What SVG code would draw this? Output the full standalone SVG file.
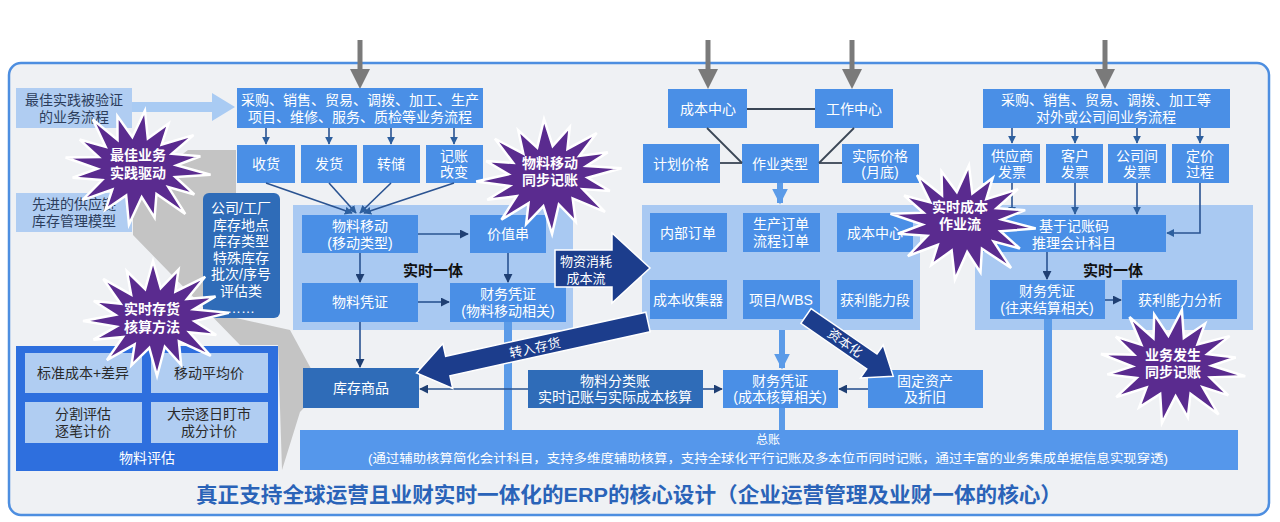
<svg xmlns="http://www.w3.org/2000/svg" width="1280" height="522" viewBox="0 0 1280 522">
<defs>
<style>
.t{font-family:"Liberation Sans","Noto Sans CJK SC",sans-serif;font-size:14px;fill:#fff;text-anchor:middle;dominant-baseline:central}
.td{fill:#2c3d5c}
.tk{fill:#2a2a2a}
.b{font-weight:700}
.box{fill:#4a8fe6}
.dark{fill:#2f6cb8}
.panel{fill:#a9c9f2}
.lite{fill:#b0cdf2}
.star{fill:#5a2b8f;stroke:#fff;stroke-width:2.5;stroke-linejoin:miter}
.navy{fill:#1c3d8c;stroke:#fff;stroke-width:1.5}
.ln{stroke:#2a5391;stroke-width:1.6;fill:none}
.gl{stroke:#3a4655;stroke-width:1.8;fill:none}
.fat{stroke:#5b9be8;stroke-width:6;fill:none}
.bar{fill:#5b9be8}
.garr{stroke:#7a7a7a;stroke-width:5}
</style>
<marker id="ah" viewBox="0 0 10 10" refX="9" refY="5" markerWidth="9" markerHeight="9" markerUnits="userSpaceOnUse" orient="auto">
<path d="M0,0 L10,5 L0,10 z" fill="#1f3f73"/>
</marker>
<marker id="ahs" viewBox="0 0 10 10" refX="9" refY="5" markerWidth="8" markerHeight="8" markerUnits="userSpaceOnUse" orient="auto">
<path d="M0,0 L10,5 L0,10 z" fill="#2d5f9e"/>
</marker>
<marker id="ahl" viewBox="0 0 10 10" refX="9" refY="5" markerWidth="16" markerHeight="16" markerUnits="userSpaceOnUse" orient="auto">
<path d="M0,0 L10,5 L0,10 z" fill="#5b9be8"/>
</marker>
<polygon id="star" points="74,0 39.2,5.9 59.9,21.3 33.3,16.7 52.9,41.6 22.2,24.9 22.8,48.6 7.8,29.4 -2,58 -7.8,29.4 -26.8,45.6 -22.2,24.9 -50.9,38.6 -33.3,16.7 -62.9,17.3 -39.2,5.9 -72,-2 -39.2,-5.9 -59.9,-21.3 -33.3,-16.7 -48.9,-42.6 -22.2,-24.9 -24.8,-48.6 -7.8,-29.4 2,-57 7.8,-29.4 26.8,-46.6 22.2,-24.9 52.9,-37.6 33.3,-16.7 61.9,-17.3 39.2,-5.9"/>
<polygon id="gtri" points="-10,0 10,0 0,20"/>
</defs>

<rect width="1280" height="522" fill="#ffffff"/>
<rect x="9" y="63" width="1260" height="452" rx="12" fill="#eff1f4" stroke="#4d8ee0" stroke-width="2.5"/>

<!-- gray beam -->
<polygon points="188,150 236,150 236,318 290,330 322,389 300,412 282,470 278,345 240,345 133,235 133,192" fill="#c4c4c4"/>

<!-- top gray input arrows -->
<g id="inputs">
<line class="garr" x1="360" y1="40" x2="360" y2="72"/><use href="#gtri" x="360" y="69" fill="#7a7a7a"/>
<line class="garr" x1="708" y1="40" x2="708" y2="72"/><use href="#gtri" x="708" y="69" fill="#7a7a7a"/>
<line class="garr" x1="852" y1="40" x2="852" y2="72"/><use href="#gtri" x="852" y="69" fill="#7a7a7a"/>
<line class="garr" x1="1105" y1="40" x2="1105" y2="72"/><use href="#gtri" x="1105" y="69" fill="#7a7a7a"/>
</g>

<!-- panels -->
<rect id="panel-left" class="panel" x="293" y="205" width="280" height="125"/>
<rect id="panel-mid" class="panel" x="642" y="205" width="278" height="125"/>
<rect id="panel-right" class="panel" x="975" y="205" width="278" height="125"/>

<!-- bars to general ledger -->
<rect class="bar" x="504" y="322" width="8" height="110"/>
<rect class="bar" x="779" y="408" width="6" height="24"/>
<rect class="bar" x="1044" y="318" width="8" height="114"/>

<!-- left nodes -->
<g id="best-practice">
<rect class="lite" x="16" y="88" width="116" height="40"/>
<text class="t td" x="74" y="100">最佳实践被验证<tspan x="74" dy="17">的业务流程</tspan></text>
<polygon points="132,102 212,102 212,93 235,107 212,121 212,112 132,112" fill="#a9cbf3"/>
</g>
<g id="supply-chain">
<rect class="lite" x="16" y="193" width="116" height="39"/>
<text class="t td" x="74" y="204">先进的供应链<tspan x="74" dy="17">库存管理模型</tspan></text>
</g>
<g id="org-units">
<rect class="dark" x="203" y="193" width="77" height="125" rx="6"/>
<text class="t" x="241" y="208">公司/工厂<tspan x="241" dy="16.6">库存地点</tspan><tspan x="241" dy="16.6">库存类型</tspan><tspan x="241" dy="16.6">特殊库存</tspan><tspan x="241" dy="16.6">批次/序号</tspan><tspan x="241" dy="16.6">评估类</tspan><tspan x="241" dy="16.6">……</tspan></text>
</g>
<g id="valuation">
<rect x="16" y="346" width="262" height="125" fill="#2e6fde"/>
<rect class="lite" x="25" y="353" width="117" height="40"/>
<rect class="lite" x="151" y="353" width="117" height="40"/>
<rect class="lite" x="25" y="402" width="117" height="41"/>
<rect class="lite" x="151" y="402" width="117" height="41"/>
<text class="t tk" x="83" y="373">标准成本+差异</text>
<text class="t tk" x="209" y="373">移动平均价</text>
<text class="t tk" x="83" y="414">分割评估<tspan x="83" dy="17">逐笔计价</tspan></text>
<text class="t tk" x="209" y="414">大宗逐日盯市<tspan x="209" dy="17">成分计价</tspan></text>
<text class="t" x="147" y="458">物料评估</text>
</g>

<!-- logistics flow -->
<g id="logistics">
<rect class="box" x="237" y="88" width="246" height="40"/>
<text class="t" x="360" y="100">采购、销售、贸易、调拨、加工、生产<tspan x="360" dy="17">项目、维修、服务、质检等业务流程</tspan></text>
</g>
<g id="goods-receipt"><rect class="box" x="237" y="145" width="58" height="38"/><text class="t" x="266" y="164">收货</text></g>
<g id="goods-issue"><rect class="box" x="301" y="145" width="56" height="38"/><text class="t" x="329" y="164">发货</text></g>
<g id="transfer"><rect class="box" x="363" y="145" width="57" height="38"/><text class="t" x="391" y="164">转储</text></g>
<g id="posting-change"><rect class="box" x="426" y="145" width="57" height="38"/><text class="t" x="454" y="156">记账<tspan x="454" dy="16">改变</tspan></text></g>

<g id="material-movement"><rect class="box" x="302" y="215" width="116" height="38"/><text class="t" x="360" y="226">物料移动<tspan x="360" dy="17">(移动类型)</tspan></text></g>
<g id="value-string"><rect class="box" x="470" y="215" width="76" height="38"/><text class="t" x="508" y="234">价值串</text></g>
<text class="t b" x="433" y="270" style="font-size:15px;fill:#111">实时一体</text>
<g id="material-doc"><rect class="box" x="302" y="283" width="116" height="39"/><text class="t" x="360" y="302">物料凭证</text></g>
<g id="fi-doc-mm"><rect class="box" x="450" y="283" width="116" height="39"/><text class="t" x="508" y="294">财务凭证<tspan x="508" dy="17">(物料移动相关)</tspan></text></g>
<g id="inventory"><rect class="dark" x="303" y="368" width="116" height="40"/><text class="t" x="361" y="388">库存商品</text></g>
<g id="material-ledger"><rect class="dark" x="528" y="370" width="175" height="38"/><text class="t" x="615" y="381">物料分类账<tspan x="615" dy="16">实时记账与实际成本核算</tspan></text></g>

<!-- controlling -->
<g id="cost-center"><rect class="box" x="668" y="89" width="79" height="39"/><text class="t" x="708" y="109">成本中心</text></g>
<g id="work-center"><rect class="box" x="815" y="89" width="78" height="39"/><text class="t" x="854" y="109">工作中心</text></g>
<g id="plan-price"><rect class="box" x="643" y="144" width="77" height="39"/><text class="t" x="681" y="164">计划价格</text></g>
<g id="activity-type"><rect class="box" x="742" y="144" width="77" height="39"/><text class="t" x="780" y="164">作业类型</text></g>
<g id="actual-price"><rect class="box" x="842" y="144" width="77" height="39"/><text class="t" x="880" y="156">实际价格<tspan x="880" dy="16">(月底)</tspan></text></g>
<g id="internal-order"><rect class="box" x="650" y="213" width="77" height="39"/><text class="t" x="688" y="233">内部订单</text></g>
<g id="production-order"><rect class="box" x="743" y="213" width="77" height="39"/><text class="t" x="781" y="224">生产订单<tspan x="781" dy="17">流程订单</tspan></text></g>
<g id="cost-center-2"><rect class="box" x="837" y="213" width="76" height="39"/><text class="t" x="875" y="233">成本中心</text></g>
<g id="cost-collector"><rect class="box" x="650" y="280" width="77" height="39"/><text class="t" x="688" y="300">成本收集器</text></g>
<g id="wbs"><rect class="box" x="743" y="280" width="77" height="39"/><text class="t" x="781" y="300">项目/WBS</text></g>
<g id="pa-segment"><rect class="box" x="837" y="280" width="76" height="39"/><text class="t" x="875" y="300">获利能力段</text></g>
<g id="fi-doc-co"><rect class="box" x="723" y="370" width="115" height="38"/><text class="t" x="780" y="381">财务凭证<tspan x="780" dy="16">(成本核算相关)</tspan></text></g>
<g id="fixed-asset"><rect class="box" x="868" y="370" width="115" height="38"/><text class="t" x="925" y="381">固定资产<tspan x="925" dy="16">及折旧</tspan></text></g>

<!-- right -->
<g id="external-process"><rect class="box" x="983" y="89" width="247" height="39"/><text class="t" x="1106" y="100">采购、销售、贸易、调拨、加工等<tspan x="1106" dy="17">对外或公司间业务流程</tspan></text></g>
<g id="vendor-invoice"><rect class="box" x="983" y="144" width="57" height="39"/><text class="t" x="1012" y="156">供应商<tspan x="1012" dy="16">发票</tspan></text></g>
<g id="customer-invoice"><rect class="box" x="1046" y="144" width="57" height="39"/><text class="t" x="1075" y="156">客户<tspan x="1075" dy="16">发票</tspan></text></g>
<g id="ic-invoice"><rect class="box" x="1108" y="144" width="58" height="39"/><text class="t" x="1137" y="156">公司间<tspan x="1137" dy="16">发票</tspan></text></g>
<g id="pricing"><rect class="box" x="1172" y="144" width="57" height="39"/><text class="t" x="1200" y="156">定价<tspan x="1200" dy="16">过程</tspan></text></g>
<g id="posting-key"><rect class="box" x="983" y="215" width="183" height="37"/><text class="t" x="1074" y="226">基于记账码<tspan x="1074" dy="17">推理会计科目</tspan></text></g>
<text class="t b" x="1113" y="270" style="font-size:15px;fill:#111">实时一体</text>
<g id="fi-doc-ar"><rect class="box" x="990" y="280" width="115" height="39"/><text class="t" x="1047" y="291">财务凭证<tspan x="1047" dy="17">(往来结算相关)</tspan></text></g>
<g id="profitability"><rect class="box" x="1122" y="280" width="115" height="39"/><text class="t" x="1180" y="300">获利能力分析</text></g>

<!-- general ledger -->
<g id="general-ledger">
<rect x="300" y="430" width="938" height="40" fill="#5597eb"/>
<text class="t" x="768" y="440" style="font-size:12px">总账</text>
<text class="t" x="768" y="459" style="font-size:12.5px" textLength="800" lengthAdjust="spacingAndGlyphs">(通过辅助核算简化会计科目，支持多维度辅助核算，支持全球化平行记账及多本位币同时记账，通过丰富的业务集成单据信息实现穿透)</text>
</g>

<!-- connectors -->
<g id="connectors">
<line class="ln" x1="266" y1="128" x2="266" y2="144" marker-end="url(#ahs)"/>
<line class="ln" x1="329" y1="128" x2="329" y2="144" marker-end="url(#ahs)"/>
<line class="ln" x1="391" y1="128" x2="391" y2="144" marker-end="url(#ahs)"/>
<line class="ln" x1="454" y1="128" x2="454" y2="144" marker-end="url(#ahs)"/>
<line class="ln" x1="266" y1="183" x2="352" y2="213" marker-end="url(#ahs)"/>
<line class="ln" x1="329" y1="183" x2="356" y2="213" marker-end="url(#ahs)"/>
<line class="ln" x1="391" y1="183" x2="360" y2="213" marker-end="url(#ahs)"/>
<line class="ln" x1="454" y1="183" x2="364" y2="213" marker-end="url(#ahs)"/>
<line class="ln" x1="418" y1="234" x2="468" y2="234" marker-end="url(#ah)"/>
<line class="ln" x1="360" y1="253" x2="360" y2="282" marker-end="url(#ah)"/>
<line class="ln" x1="508" y1="253" x2="508" y2="282" marker-end="url(#ah)"/>
<line class="ln" x1="418" y1="302" x2="449" y2="302" marker-end="url(#ah)"/>
<line class="ln" x1="360" y1="322" x2="360" y2="367" marker-end="url(#ah)"/>
<line class="ln" x1="528" y1="389" x2="420" y2="389" marker-end="url(#ah)"/>
<line class="ln" x1="703" y1="389" x2="722" y2="389" marker-end="url(#ah)"/>
<line class="ln" x1="868" y1="389" x2="839" y2="389" marker-end="url(#ah)"/>
<line class="gl" x1="747" y1="109" x2="815" y2="109"/>
<line class="gl" x1="707" y1="128" x2="742" y2="163"/>
<line class="gl" x1="854" y1="128" x2="819" y2="163"/>
<line class="gl" x1="720" y1="163" x2="742" y2="163"/>
<line class="gl" x1="842" y1="163" x2="819" y2="163"/>
<line class="fat" x1="780" y1="183" x2="780" y2="203" marker-end="url(#ahl)"/>
<line class="fat" x1="782" y1="330" x2="782" y2="368" marker-end="url(#ahl)"/>
<line class="ln" x1="1012" y1="128" x2="1012" y2="143" marker-end="url(#ahs)"/>
<line class="ln" x1="1075" y1="128" x2="1075" y2="143" marker-end="url(#ahs)"/>
<line class="ln" x1="1137" y1="128" x2="1137" y2="143" marker-end="url(#ahs)"/>
<line class="ln" x1="1200" y1="128" x2="1200" y2="143" marker-end="url(#ahs)"/>
<line class="ln" x1="1012" y1="183" x2="1012" y2="214" marker-end="url(#ahs)"/>
<line class="ln" x1="1075" y1="183" x2="1075" y2="214" marker-end="url(#ahs)"/>
<line class="ln" x1="1137" y1="183" x2="1137" y2="214" marker-end="url(#ahs)"/>
<path class="ln" d="M1200,183 V233 H1167" marker-end="url(#ahs)"/>
<line class="ln" x1="1047" y1="252" x2="1047" y2="279" marker-end="url(#ah)"/>
<line class="ln" x1="1105" y1="300" x2="1121" y2="300" marker-end="url(#ah)"/>
</g>

<!-- navy flow arrows -->
<g id="flow-consumption">
<polygon class="navy" points="555,250 612,250 612,233 650,268 612,303 612,287 555,287"/>
<text class="t" x="586" y="261" style="font-size:13px">物资消耗<tspan x="586" dy="17">成本流</tspan></text>
</g>
<g id="flow-to-inventory">
<polygon class="navy" transform="translate(648,322) rotate(167.6)" points="0,-10 205,-10 205,-23 237,0 205,23 205,10 0,10"/>
<text class="t" x="535" y="348" transform="rotate(-12.4 535 348)" style="font-size:13px">转入存货</text>
</g>
<g id="flow-capitalize">
<polygon class="navy" transform="translate(806,316) rotate(34.6)" points="0,-9 80,-9 80,-20 106,0 80,20 80,9 0,9"/>
<text class="t" x="845" y="343" transform="rotate(34.6 845 343)" style="font-size:13px">资本化</text>
</g>

<!-- starbursts -->
<g id="star-best-practice"><use href="#star" class="star" transform="translate(137,167) rotate(6)"/><text class="t b" x="138" y="155">最佳业务<tspan x="138" dy="18">实践驱动</tspan></text></g>
<g id="star-material-posting"><use href="#star" class="star" transform="translate(548,176) rotate(-6)"/><text class="t b" x="550" y="163">物料移动<tspan x="550" dy="17">同步记账</tspan></text></g>
<g id="star-costing"><use href="#star" class="star" transform="translate(962,222) rotate(5)"/><text class="t b" x="960" y="207">实时成本<tspan x="960" dy="17">作业流</tspan></text></g>
<g id="star-inventory"><use href="#star" class="star" transform="translate(155,318) rotate(-4)"/><text class="t b" x="152" y="309">实时存货<tspan x="152" dy="18">核算方法</tspan></text></g>
<g id="star-business"><use href="#star" class="star" transform="translate(1172,366) rotate(8)"/><text class="t b" x="1173" y="355">业务发生<tspan x="1173" dy="17">同步记账</tspan></text></g>

<text id="title" x="196" y="494" textLength="866" lengthAdjust="spacingAndGlyphs" style="font-family:'Liberation Sans','Noto Sans CJK SC',sans-serif;font-size:21px;font-weight:700;fill:#2a63b8;dominant-baseline:central">真正支持全球运营且业财实时一体化的ERP的核心设计（企业运营管理及业财一体的核心）</text>
</svg>
